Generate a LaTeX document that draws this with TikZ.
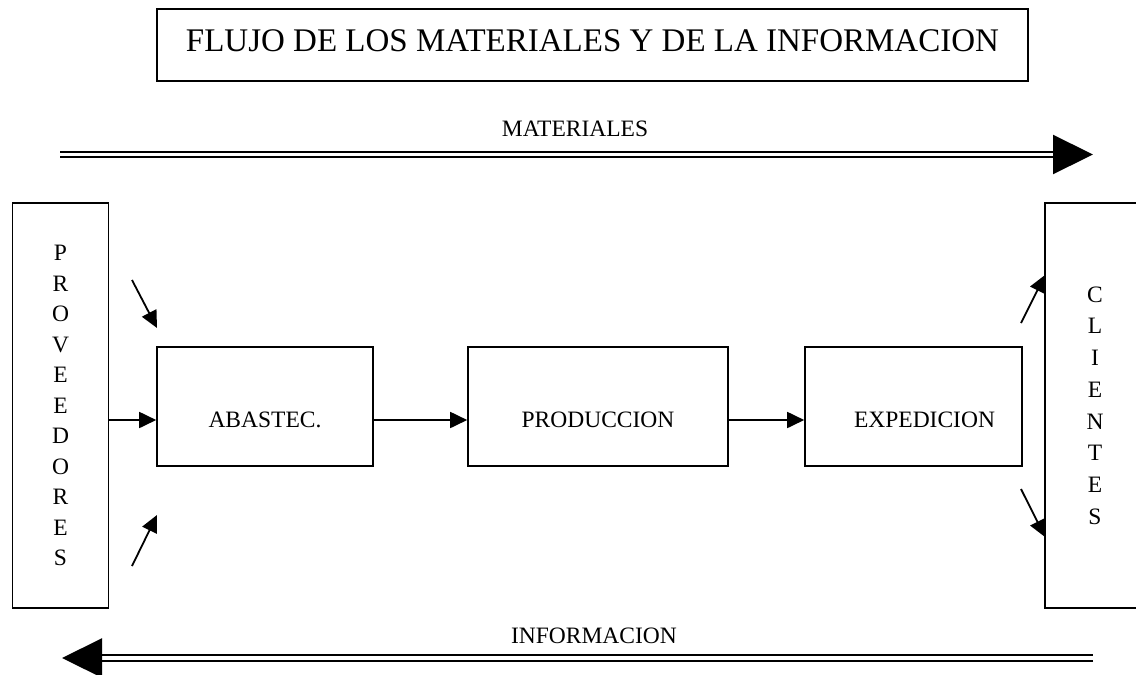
\documentclass[tikz,border=0pt]{standalone}
\usepackage{fontspec}
\setmainfont{Liberation Serif}
\usetikzlibrary{arrows.meta}

\begin{document}
\begin{tikzpicture}[x=1pt,y=-1pt,
  caja/.style={draw,line width=1.6pt,inner sep=0pt},
  etapa/.style={caja,minimum width=216pt,minimum height=119pt,
    text height=41pt,text depth=0pt,font=\fontsize{23.5}{28}\selectfont},
  lado/.style={caja,minimum width=96pt,minimum height=405pt,align=center},
  flecha/.style={line width=1.8pt,-{Triangle[length=17pt,width=16pt]}},
  flujo/.style={double,double distance=3.3pt,line width=2.2pt,
    -{Triangle[length=40pt,width=39pt]}},
  rotulo/.style={font=\fontsize{23.5}{28}\selectfont}]
\useasboundingbox (0,0) rectangle (1136,675);
\node[caja,minimum width=871pt,minimum height=72pt,text height=22pt,text depth=10pt,
  font=\fontsize{33}{40}\selectfont] (titulo) at (592.5,45)
  {FLUJO DE LOS MATERIALES Y DE LA INFORMACION};

\node[lado,font=\fontsize{23.5}{30.5}\selectfont] (prov) at (60.5,405.5)
  {P\\R\\O\\V\\E\\E\\D\\O\\R\\E\\S};
\node[lado,minimum width=100pt,font=\fontsize{23.5}{31.7}\selectfont] (cli) at (1095,405.5)
  {C\\L\\I\\E\\N\\T\\E\\S};

\node[etapa] (abast) at (265,406.5) {ABASTEC.};
\node[etapa,minimum width=260pt] (prod) at (598,406.5) {PRODUCCION};
\node[etapa,minimum width=217pt] (exped) at (913.5,406.5) {\hspace*{22pt}EXPEDICION};

\coordinate (entra) at ([yshift=-13.5pt]abast.west);
\draw[flecha] (prov.east |- entra) -- (entra);
\draw[flecha] ([yshift=-13.5pt]abast.east) -- ([yshift=-13.5pt]prod.west);
\draw[flecha] ([yshift=-13.5pt]prod.east) -- ([yshift=-13.5pt]exped.west);

% flechas sueltas
\coordinate (pa1) at (132,280); \coordinate (pa2) at (157,328);
\coordinate (pb1) at (132,566); \coordinate (pb2) at (157,515);
\coordinate (ca1) at (1021,323); \coordinate (ca2) at (1045,275);
\coordinate (cb1) at (1021,489); \coordinate (cb2) at (1045,537);
\draw[flecha] (pa1) -- (pa2);
\draw[flecha] (pb1) -- (pb2);
\draw[flecha] (ca1) -- (ca2);
\draw[flecha] (cb1) -- (cb2);

% flujos
\coordinate (matA) at (60,154.5); \coordinate (matB) at (1093,154.5);
\coordinate (infA) at (1093,658); \coordinate (infB) at (62,658);
\draw[flujo] (matA) -- (matB);
\draw[flujo] (infA) -- (infB);
\node[rotulo] (mat) at (575,129) {MATERIALES};
\node[rotulo] (inf) at (594,635.5) {INFORMACION};
\end{tikzpicture}
\end{document}
